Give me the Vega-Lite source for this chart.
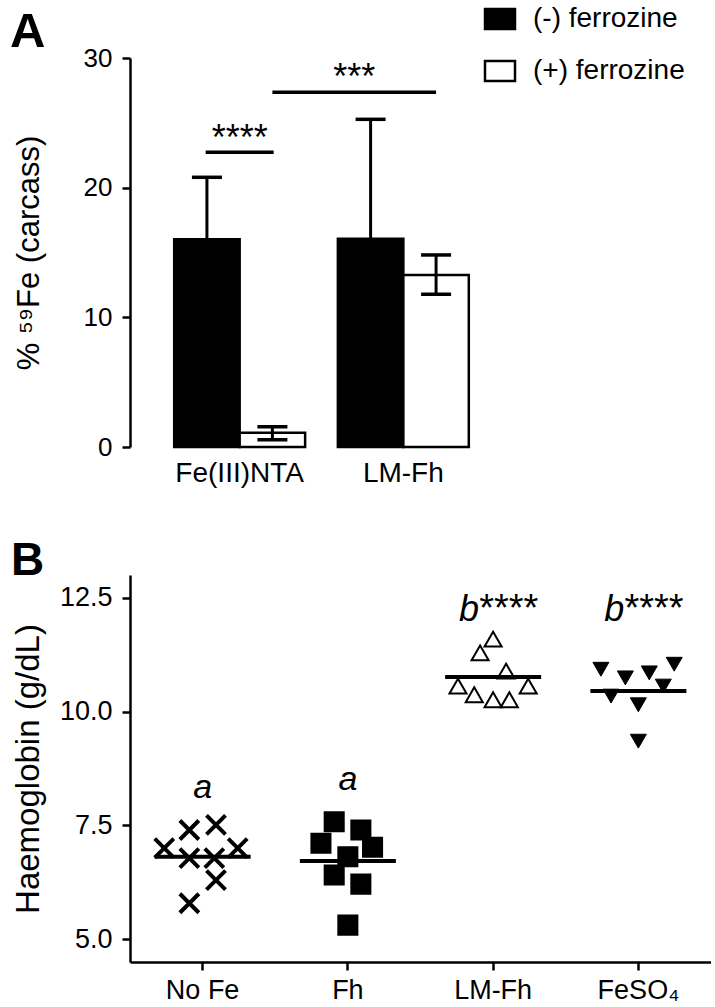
{
  "$schema": "https://vega.github.io/schema/vega-lite/v6.json",
  "background": "white",
  "padding": {"left": 10, "top": 5, "right": 0, "bottom": 0},
  "bounds": "flush",
  "spacing": 128,
  "config": {
    "font": "Liberation Sans",
    "view": {"stroke": null},
    "axis": {
      "domainColor": "black", "domainWidth": 2.5, "tickColor": "black", "tickWidth": 2.5, "tickSize": 8,
      "labelColor": "black", "titleColor": "black", "grid": false,
      "labelFont": "Liberation Sans", "titleFont": "Liberation Sans", "titleFontWeight": "normal"
    },
    "title": {"font": "Liberation Sans", "fontWeight": "bold", "color": "black", "anchor": "start", "frame": "group", "baseline": "alphabetic"}
  },
  "resolve": {
    "scale": {"x": "independent", "y": "independent", "fill": "independent", "shape": "independent", "size": "independent", "strokeWidth": "independent", "xOffset": "independent"},
    "legend": {"fill": "independent", "shape": "independent", "size": "independent", "strokeWidth": "independent"}
  },
  "vconcat": [
    {
      "width": 383,
      "height": 389,
      "title": {"text": "A", "fontSize": 49, "dx": -120, "dy": 63, "offset": 11},
      "layer": [
        {
          "data": {"name": "bars", "values": [
            {"compound": "Fe(III)NTA", "ferrozine": "(-) ferrozine", "value": 16.02, "lo": 11.24, "hi": 20.8},
            {"compound": "Fe(III)NTA", "ferrozine": "(+) ferrozine", "value": 1.1, "lo": 0.55, "hi": 1.57},
            {"compound": "LM-Fh", "ferrozine": "(-) ferrozine", "value": 16.07, "lo": 6.87, "hi": 25.27},
            {"compound": "LM-Fh", "ferrozine": "(+) ferrozine", "value": 13.26, "lo": 11.78, "hi": 14.81}
          ]},
          "layer": [
            {
              "mark": {"type": "bar", "stroke": "black", "strokeWidth": 2.5},
              "encoding": {
                "x": {"field": "compound", "type": "nominal",
                  "scale": {"domain": ["Fe(III)NTA", "LM-Fh"], "paddingInner": 0.2, "paddingOuter": 0.27},
                  "axis": {"title": null, "labelAngle": 0, "labelFontSize": 28, "domain": false, "ticks": false, "tickSize": 0, "labelPadding": 12}},
                "xOffset": {"field": "ferrozine", "type": "nominal", "scale": {"domain": ["(-) ferrozine", "(+) ferrozine"], "paddingInner": 0, "paddingOuter": 0}},
                "y": {"field": "value", "type": "quantitative", "scale": {"domain": [0, 30], "nice": false},
                  "axis": {"values": [0, 10, 20, 30], "title": "% ⁵⁹Fe (carcass)", "titleFontSize": 31, "labelFontSize": 26, "labelPadding": 10, "titleX": -101, "titleY": 194.5, "titleBaseline": "middle"}},
                "fill": {"field": "ferrozine", "type": "nominal",
                  "scale": {"domain": ["(-) ferrozine", "(+) ferrozine"], "range": ["black", "white"]},
                  "legend": {"orient": "none", "legendX": 356, "legendY": -53, "title": null,
                    "symbolType": "M-1.5,-1H1.5V1H-1.5Z", "symbolSize": 400, "symbolStrokeColor": "black", "symbolStrokeWidth": 2.5,
                    "labelFontSize": 28, "labelFont": "Liberation Sans", "labelColor": "black", "labelOffset": 19, "rowPadding": 22}}
              }
            },
            {
              "mark": {"type": "rule", "strokeWidth": 3, "color": "black"},
              "encoding": {
                "x": {"field": "compound", "type": "nominal"},
                "xOffset": {"field": "ferrozine", "type": "nominal"},
                "y": {"field": "lo", "type": "quantitative"},
                "y2": {"field": "hi"}
              }
            },
            {
              "mark": {"type": "tick", "thickness": 3.5, "size": 30, "color": "black", "opacity": 1},
              "encoding": {
                "x": {"field": "compound", "type": "nominal"},
                "xOffset": {"field": "ferrozine", "type": "nominal"},
                "y": {"field": "hi", "type": "quantitative"}
              }
            },
            {
              "mark": {"type": "tick", "thickness": 3.5, "size": 30, "color": "black", "opacity": 1},
              "encoding": {
                "x": {"field": "compound", "type": "nominal"},
                "xOffset": {"field": "ferrozine", "type": "nominal"},
                "y": {"field": "lo", "type": "quantitative"}
              }
            }
          ]
        },
        {
          "data": {"values": [{"label": "****", "y": 22.73}]},
          "layer": [
            {
              "mark": {"type": "tick", "thickness": 3.5, "size": 68, "color": "black", "opacity": 1},
              "encoding": {
                "x": {"datum": "Fe(III)NTA", "type": "nominal"},
                "y": {"field": "y", "type": "quantitative"}
              }
            },
            {
              "mark": {"type": "text", "fontSize": 36, "baseline": "alphabetic", "align": "center", "dy": -2, "color": "black"},
              "encoding": {
                "x": {"datum": "Fe(III)NTA", "type": "nominal"},
                "y": {"field": "y", "type": "quantitative"},
                "text": {"field": "label"}
              }
            }
          ]
        },
        {
          "data": {"values": [{"label": "***", "y": 27.35}]},
          "layer": [
            {
              "mark": {"type": "rule", "strokeWidth": 3.5, "color": "black"},
              "encoding": {
                "x": {"datum": "Fe(III)NTA", "type": "nominal", "bandPosition": 0.75},
                "x2": {"datum": "LM-Fh", "bandPosition": 0.75},
                "y": {"field": "y", "type": "quantitative"}
              }
            },
            {
              "mark": {"type": "text", "fontSize": 36, "baseline": "alphabetic", "align": "center", "dy": -3, "color": "black"},
              "encoding": {
                "x": {"datum": "LM-Fh", "type": "nominal", "bandPosition": 0.125},
                "y": {"field": "y", "type": "quantitative"},
                "text": {"field": "label"}
              }
            }
          ]
        }
      ]
    },
    {
      "width": 581,
      "height": 387,
      "title": {"text": "B", "fontSize": 46, "dx": -119, "dy": 10, "offset": 0},
      "layer": [
        {
          "data": {"values": [
            {"group": "No Fe", "jitter": -2.95, "hb": 7.00},
            {"group": "No Fe", "jitter": -1.02, "hb": 7.40},
            {"group": "No Fe", "jitter": 1.03, "hb": 7.51},
            {"group": "No Fe", "jitter": 2.7, "hb": 7.00},
            {"group": "No Fe", "jitter": -1.02, "hb": 6.78},
            {"group": "No Fe", "jitter": 0.9, "hb": 6.78},
            {"group": "No Fe", "jitter": 1.03, "hb": 6.30},
            {"group": "No Fe", "jitter": -1.02, "hb": 5.79},
            {"group": "Fh", "jitter": -1.05, "hb": 7.58},
            {"group": "Fh", "jitter": 1.0, "hb": 7.40},
            {"group": "Fh", "jitter": -2.07, "hb": 7.11},
            {"group": "Fh", "jitter": 1.9, "hb": 7.02},
            {"group": "Fh", "jitter": 0, "hb": 6.81},
            {"group": "Fh", "jitter": -1.05, "hb": 6.41},
            {"group": "Fh", "jitter": 1.0, "hb": 6.21},
            {"group": "Fh", "jitter": 0, "hb": 5.31},
            {"group": "LM-Fh", "jitter": 0, "hb": 11.59},
            {"group": "LM-Fh", "jitter": -1.0, "hb": 11.29},
            {"group": "LM-Fh", "jitter": 1.0, "hb": 10.89},
            {"group": "LM-Fh", "jitter": -2.7, "hb": 10.56},
            {"group": "LM-Fh", "jitter": 2.7, "hb": 10.56},
            {"group": "LM-Fh", "jitter": -1.45, "hb": 10.37},
            {"group": "LM-Fh", "jitter": 0, "hb": 10.26},
            {"group": "LM-Fh", "jitter": 1.25, "hb": 10.26},
            {"group": "FeSO₄", "jitter": -2.88, "hb": 10.93},
            {"group": "FeSO₄", "jitter": -1.0, "hb": 10.74},
            {"group": "FeSO₄", "jitter": 0.84, "hb": 10.85},
            {"group": "FeSO₄", "jitter": 2.76, "hb": 11.04},
            {"group": "FeSO₄", "jitter": 1.92, "hb": 10.56},
            {"group": "FeSO₄", "jitter": -2.1, "hb": 10.34},
            {"group": "FeSO₄", "jitter": 0, "hb": 10.15},
            {"group": "FeSO₄", "jitter": 0, "hb": 9.35}
          ]},
          "mark": {"type": "point", "filled": true, "stroke": "black", "opacity": 1, "fillOpacity": 1, "strokeOpacity": 1},
          "encoding": {
            "x": {"field": "group", "type": "nominal",
              "scale": {"domain": ["No Fe", "Fh", "LM-Fh", "FeSO₄"], "paddingInner": 0, "paddingOuter": 0},
              "axis": {"title": null, "labelAngle": 0, "labelFontSize": 27, "labelPadding": 7}},
            "xOffset": {"field": "jitter", "type": "quantitative", "scale": {"domain": [-4, 4], "range": [20.6, 124.6]}},
            "y": {"field": "hb", "type": "quantitative", "scale": {"domain": [4.5, 13], "nice": false, "zero": false},
              "axis": {"values": [5, 7.5, 10, 12.5], "format": ".1f", "title": "Haemoglobin (g/dL)", "titleFontSize": 33, "labelFontSize": 27, "labelPadding": 10, "titleX": -102, "titleY": 193.5, "titleBaseline": "middle"}},
            "shape": {"field": "group", "type": "nominal",
              "scale": {"domain": ["No Fe", "Fh", "LM-Fh", "FeSO₄"], "range": ["M-1,-1L1,1M-1,1L1,-1", "square", "triangle-up", "triangle-down"]}, "legend": null},
            "fill": {"field": "group", "type": "nominal",
              "scale": {"domain": ["No Fe", "Fh", "LM-Fh", "FeSO₄"], "range": ["transparent", "black", "white", "black"]}, "legend": null},
            "strokeWidth": {"field": "group", "type": "ordinal",
              "scale": {"domain": ["No Fe", "Fh", "LM-Fh", "FeSO₄"], "range": [4, 1, 2.5, 1]}, "legend": null},
            "size": {"field": "group", "type": "ordinal",
              "scale": {"domain": ["No Fe", "Fh", "LM-Fh", "FeSO₄"], "range": [361, 256, 300, 330]}, "legend": null}
          }
        },
        {
          "data": {"values": [
            {"group": "No Fe", "median": 6.81},
            {"group": "Fh", "median": 6.72},
            {"group": "LM-Fh", "median": 10.76},
            {"group": "FeSO₄", "median": 10.45}
          ]},
          "mark": {"type": "tick", "thickness": 4, "size": 96, "color": "black", "opacity": 1},
          "encoding": {
            "x": {"field": "group", "type": "nominal"},
            "y": {"field": "median", "type": "quantitative"}
          }
        },
        {
          "data": {"values": [
            {"group": "No Fe", "y": 8.10, "label": "a"},
            {"group": "Fh", "y": 8.28, "label": "a"}
          ]},
          "mark": {"type": "text", "fontSize": 34, "fontStyle": "italic", "baseline": "alphabetic", "align": "center", "color": "black"},
          "encoding": {
            "x": {"field": "group", "type": "nominal"},
            "y": {"field": "y", "type": "quantitative"},
            "text": {"field": "label"}
          }
        },
        {
          "data": {"values": [
            {"group": "LM-Fh", "y": 12.0, "label": "b", "stars": "****"},
            {"group": "FeSO₄", "y": 12.0, "label": "b", "stars": "****"}
          ]},
          "layer": [
            {
              "mark": {"type": "text", "fontSize": 36, "fontStyle": "italic", "baseline": "alphabetic", "align": "right", "dx": -14, "color": "black"},
              "encoding": {
                "x": {"field": "group", "type": "nominal"},
                "y": {"field": "y", "type": "quantitative"},
                "text": {"field": "label"}
              }
            },
            {
              "mark": {"type": "text", "fontSize": 38, "baseline": "alphabetic", "align": "left", "dx": -14, "color": "black"},
              "encoding": {
                "x": {"field": "group", "type": "nominal"},
                "y": {"field": "y", "type": "quantitative"},
                "text": {"field": "stars"}
              }
            }
          ]
        }
      ]
    }
  ]
}
